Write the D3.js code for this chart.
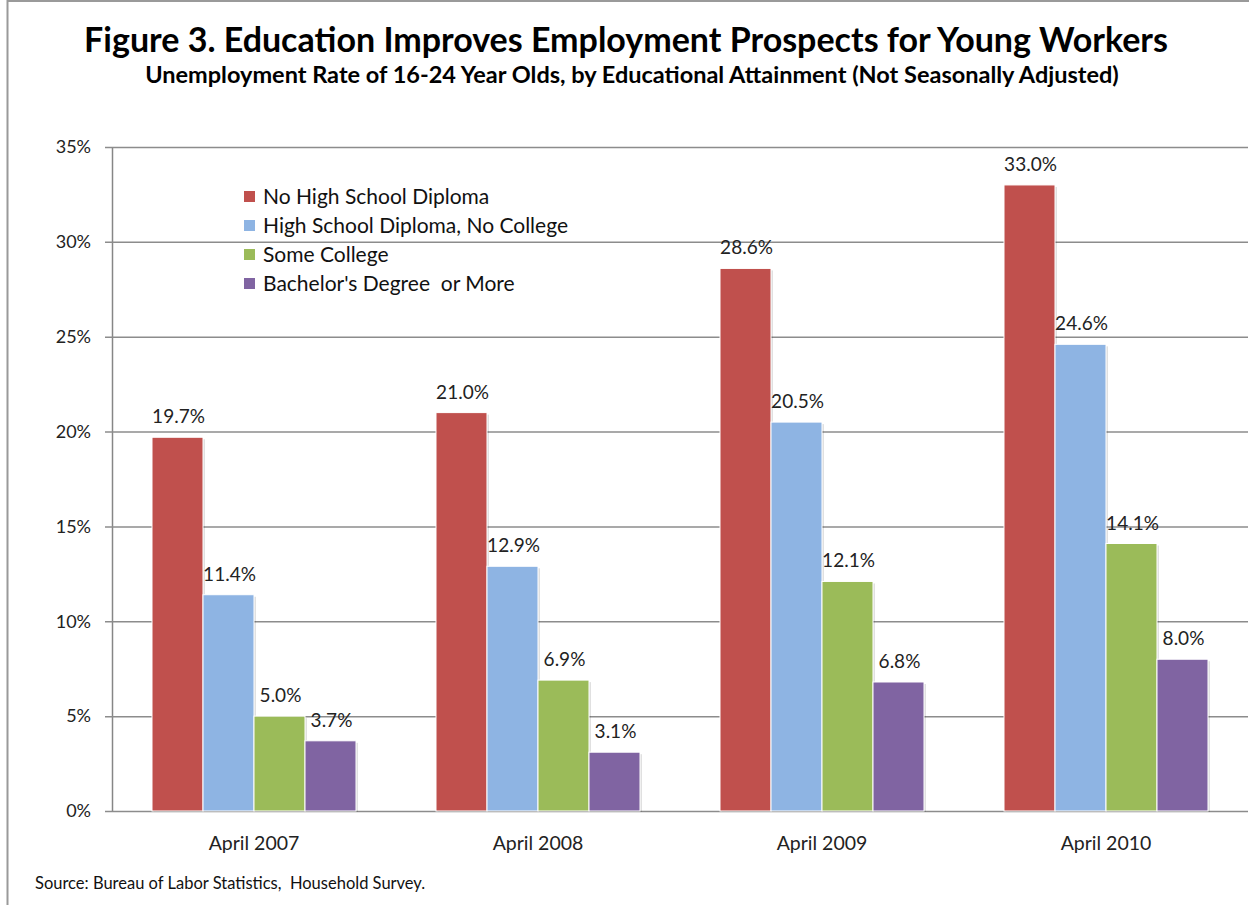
<!DOCTYPE html>
<html>
<head>
<meta charset="utf-8">
<script src="https://cdn.jsdelivr.net/npm/d3@7"></script>
<style>
  body { margin: 0; background: #fff; }
  svg { display: block; font-family: Lato, "Open Sans", sans-serif; }
  text { white-space: pre; }
</style>
</head>
<body>
<svg id="chart" width="1249" height="905"></svg>
<script>
const categories = ["April 2007", "April 2008", "April 2009", "April 2010"];
const seriesNames = ["No High School Diploma", "High School Diploma, No College", "Some College", "Bachelor's Degree  or More"];
const noDiploma = [19.7, 21.0, 28.6, 33.0];
const hsDiploma = [11.4, 12.9, 20.5, 24.6];
const someCollege = [5.0, 6.9, 12.1, 14.1];
const bachelors = [3.7, 3.1, 6.8, 8.0];
const yTicks = [0, 5, 10, 15, 20, 25, 30, 35];
const colors = ["#c0504d", "#8eb4e3", "#9bbb59", "#8064a2"];

const seriesValues = [noDiploma, hsDiploma, someCollege, bachelors];

let svg = d3.select("svg");

const attr_area = {
  left: 112,
  right: 1248,
  top: 147,
  bottom: 811
};

// frame
svg.append("rect")
  .attr("x", 7.5).attr("y", 1)
  .attr("width", 1260).attr("height", 930)
  .attr("fill", "none")
  .attr("stroke", "#9a9a9a")
  .attr("stroke-width", 2);

// titles
svg.append("text")
  .attr("x", 626).attr("y", 52)
  .attr("text-anchor", "middle")
  .style("font-size", "34px")
  .style("font-weight", "bold")
  .style("fill", "#000")
  .text("Figure 3. Education Improves Employment Prospects for Young Workers");

svg.append("text")
  .attr("x", 632).attr("y", 83)
  .attr("text-anchor", "middle")
  .style("font-size", "23.5px")
  .style("font-weight", "bold")
  .style("fill", "#000")
  .text("Unemployment Rate of 16-24 Year Olds, by Educational Attainment (Not Seasonally Adjusted)");

const scaleX = d3.scaleBand()
  .domain(categories)
  .range([attr_area.left, attr_area.right]);

const scaleY = d3.scaleLinear()
  .domain([0, 35])
  .range([attr_area.bottom, attr_area.top]);

const scaleInner = d3.scaleBand()
  .domain(seriesNames)
  .range([40, scaleX.bandwidth() - 40]);

// y axis with gridlines
const axisY = d3.axisLeft(scaleY)
  .tickValues(yTicks)
  .tickFormat(d => d + "%")
  .tickSizeInner(-(attr_area.right - attr_area.left))
  .tickSizeOuter(0)
  .tickPadding(21);

const gY = svg.append("g")
  .attr("transform", `translate(${attr_area.left}, 0)`)
  .call(axisY);
gY.select(".domain").attr("stroke", "#868686").attr("stroke-width", 1.5);
gY.selectAll(".tick line")
  .attr("x1", -7)
  .attr("stroke", "#8c8c8c")
  .attr("stroke-width", 1.5);
gY.selectAll(".tick text")
  .style("font-size", "18px")
  .style("font-family", "Lato, sans-serif")
  .style("fill", "#222");

// x axis labels
const axisX = d3.axisBottom(scaleX).tickSize(0).tickPadding(25);
const gX = svg.append("g")
  .attr("transform", `translate(0, ${attr_area.bottom})`)
  .call(axisX);
gX.select(".domain").remove();
gX.selectAll(".tick text")
  .style("font-size", "19.5px")
  .style("font-family", "Lato, sans-serif")
  .style("fill", "#222");

// bars
seriesValues.forEach((vals, si) => {
  categories.forEach((cat, ci) => {
    const x = scaleX(cat) + scaleInner(seriesNames[si]);
    const y = scaleY(vals[ci]);
    const w = scaleInner.bandwidth();
    const h = attr_area.bottom - y;
    // soft shadow
    svg.append("rect")
      .attr("x", x + 2).attr("y", y + 2)
      .attr("width", w).attr("height", h - 1)
      .style("fill", "#000")
      .style("opacity", 0.12);
    svg.append("rect")
      .attr("x", x).attr("y", y)
      .attr("width", w).attr("height", h)
      .style("fill", colors[si])
      .style("stroke", "#fff")
      .style("stroke-width", 1);
    svg.append("text")
      .attr("x", x + w / 2 + 1)
      .attr("y", y - 14)
      .attr("text-anchor", "middle")
      .style("font-size", "19px")
      .style("fill", "#222")
      .text(vals[ci].toFixed(1) + "%");
  });
});

// legend
const legend = svg.append("g").attr("transform", "translate(244, 197)");
seriesNames.forEach((name, i) => {
  const row = legend.append("g").attr("transform", `translate(0, ${i * 29})`);
  row.append("rect")
    .attr("x", 0).attr("y", -6)
    .attr("width", 11).attr("height", 11)
    .style("fill", colors[i]);
  row.append("text")
    .attr("x", 19).attr("y", 7)
    .style("font-size", "21px")
    .style("fill", "#111")
    .text(name);
});

// source
svg.append("text")
  .attr("x", 35).attr("y", 889)
  .style("font-size", "16.5px")
  .style("fill", "#111")
  .text("Source: Bureau of Labor Statistics,  Household Survey.");
</script>
</body>
</html>
